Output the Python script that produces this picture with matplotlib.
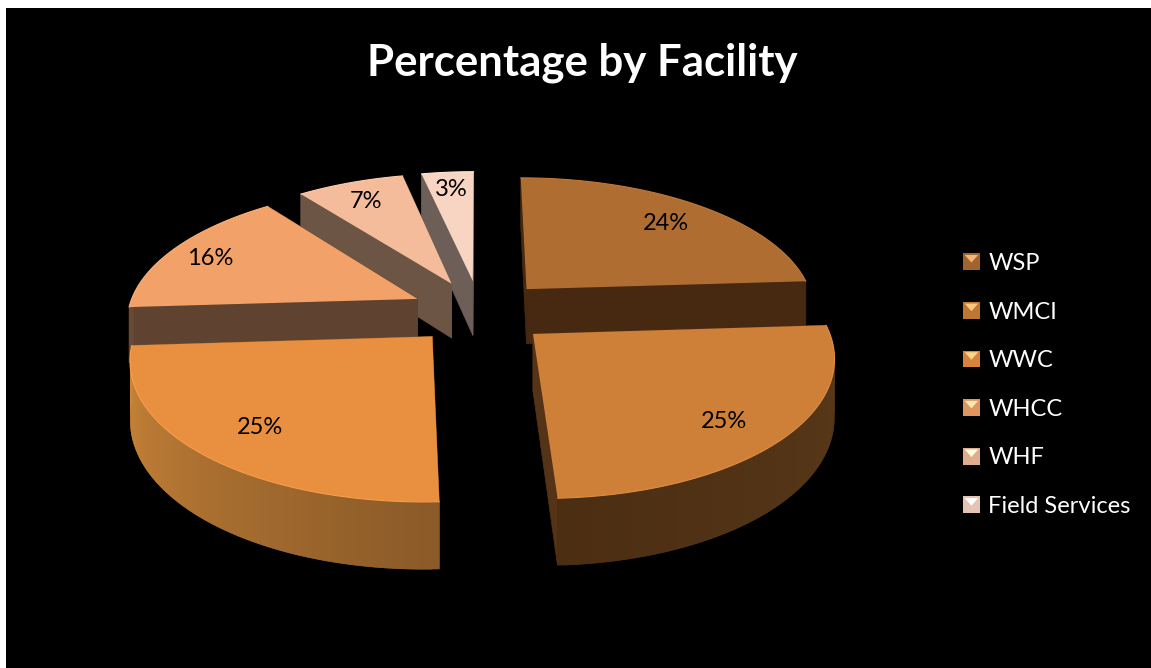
import numpy as np
import matplotlib
matplotlib.use("Agg")
import matplotlib.pyplot as plt
from matplotlib.patches import Polygon, Rectangle
from matplotlib.legend_handler import HandlerBase
from matplotlib.colors import to_rgb

plt.rcParams['font.family'] = ['Lato', 'DejaVu Sans']

# ============================
# Data
# ============================

facilities = ["WSP", "WMCI", "WWC", "WHCC", "WHF", "Field Services"]
# the labels show them rounded
percent = [24.0, 25.3, 24.7, 15.6, 7.0, 3.4]

top_colors = ["#b06d31", "#cf8038", "#e98f40", "#f2a268", "#f4bc9a", "#f8d5c3"]
side_colors = ["#472911", "#553316", "#8a5a28", "#5f4330", "#6d5546", "#6d5f58"]
# rim colour at the start and the end of each slice's arc
rim_start = ["#4d2e13", "#5a3a19", "#8a5a28", "#6a4a34", "#76604f", "#7a6a62"]
rim_end = ["#4d2e13", "#4c2e13", "#cc8639", "#6a4a34", "#76604f", "#7a6a62"]
label_radius = [0.80, 0.80, 0.77, 0.85, 0.83, 0.85]
label_turn = [0, 2, 0, 0, 0, 0]

# ============================
# Pie geometry
# ============================

CX, CY = 480, 312
RX, RY = 290, 133.6
PERSPECTIVE = 0.145
EXPLODE = 0.24
DEPTH = 56


def project(u, v, drop=0.0):
    s = 1 / (1 + PERSPECTIVE * v)
    return CX + RX * u * s, CY - RY * v * s + drop * DEPTH * s


def ring(theta, mid, r=1.0):
    u = EXPLODE * np.sin(mid) + r * np.sin(theta)
    v = EXPLODE * np.cos(mid) + r * np.cos(theta)
    return u, v


fig = plt.figure(figsize=(11.51, 6.68), dpi=100, facecolor="white")
ax = fig.add_axes([6 / 1151, 0, 1145 / 1151, 660 / 668])
ax.set_xlim(6, 1151)
ax.set_ylim(668, 8)
ax.set_facecolor("black")
ax.set_xticks([])
ax.set_yticks([])
for sp in ax.spines.values():
    sp.set_visible(False)

edges = np.radians(np.cumsum([0] + percent) * 3.6)
mids = (edges[:-1] + edges[1:]) / 2

# back slices first, the front ones paint over them
order = np.argsort(-np.cos(mids))

for z, i in enumerate(order):
    a0, a1, mid = edges[i], edges[i + 1], mids[i]
    zbase = 2 + z * 3
    theta = np.linspace(a0, a1, 80)
    u, v = ring(theta, mid)
    ax_u, ax_v = ring(mid, mid, 0.0)

    # flat cut faces
    for end in (0, -1):
        p = [project(ax_u, ax_v), project(u[end], v[end]),
             project(u[end], v[end], 1), project(ax_u, ax_v, 1)]
        ax.add_patch(Polygon(p, closed=True, fc=side_colors[i], ec=side_colors[i],
                             lw=0.5, zorder=zbase))

    # outer wall, only the part that faces the viewer
    c0 = np.array(to_rgb(rim_start[i]))
    c1 = np.array(to_rgb(rim_end[i]))
    for k in range(len(theta) - 2):
        if np.cos(theta[k]) > 0.02:
            continue
        t = k / (len(theta) - 3)
        col = c0 + (c1 - c0) * t
        p = [project(u[k], v[k]), project(u[k + 2], v[k + 2]),
             project(u[k + 2], v[k + 2], 1), project(u[k], v[k], 1)]
        ax.add_patch(Polygon(p, closed=True, fc=col, ec="none", zorder=zbase + 1))

    # top face
    xs, ys = project(np.r_[ax_u, u], np.r_[ax_v, v])
    ax.add_patch(Polygon(np.c_[xs, ys], closed=True, fc=top_colors[i], ec="none",
                         zorder=zbase + 2))
    lx, ly = project(u, v)
    rim = tuple(min(1, c * 1.06 + 0.02) for c in to_rgb(top_colors[i]))
    ax.plot(lx, ly, color=rim, lw=0.8, zorder=zbase + 2, solid_capstyle="round")

    # percentage label
    lu, lv = ring(mid + np.radians(label_turn[i]), mid, label_radius[i])
    tx, ty = project(lu, lv)
    ax.text(tx, ty + 3, f"{round(percent[i])}%", color="black", fontsize=17, ha="center",
            va="center", zorder=50)

ax.text(582, 63, "Percentage by Facility", color="white", fontsize=31.5,
        fontweight="bold", ha="center", va="center", zorder=50)


# ============================
# Legend
# ============================

class BevelHandler(HandlerBase):
    # small pillow-shaded square like the Office legend keys

    def create_artists(self, legend, orig, xdescent, ydescent, width, height, fontsize, trans):
        col = np.array(to_rgb(orig.get_facecolor()))
        x0, y0 = -xdescent, -ydescent
        side = height * 1.0
        x1, y1 = x0 + side, y0 + side
        m = side * 0.5
        e = side * 0.1
        light = np.minimum(1, col + 0.28)
        body = Polygon([(x0, y0), (x1, y0), (x1, y1), (x0, y1)], closed=True,
                       fc=col * 0.92, ec="none", transform=trans)
        glow = Polygon([(x0 + e, y1 - e), (x1 - e, y1 - e), (x0 + m, y0 + m * 0.9)], closed=True,
                       fc=light, ec="none", transform=trans)
        return [body, glow]


handles = [Rectangle((0, 0), 1, 1, fc=c) for c in top_colors]
leg = ax.legend(handles, facilities, loc="center left",
                bbox_to_anchor=(963 / 1151, 1 - 385 / 668), bbox_transform=fig.transFigure,
                frameon=False, fontsize=17, labelcolor="white",
                handler_map={Rectangle: BevelHandler()},
                handlelength=0.72, handleheight=0.72, handletextpad=0.36,
                labelspacing=1.17, borderpad=0, borderaxespad=0)
leg.set_zorder(60)

plt.savefig("out.png", dpi=100, facecolor=fig.get_facecolor())
